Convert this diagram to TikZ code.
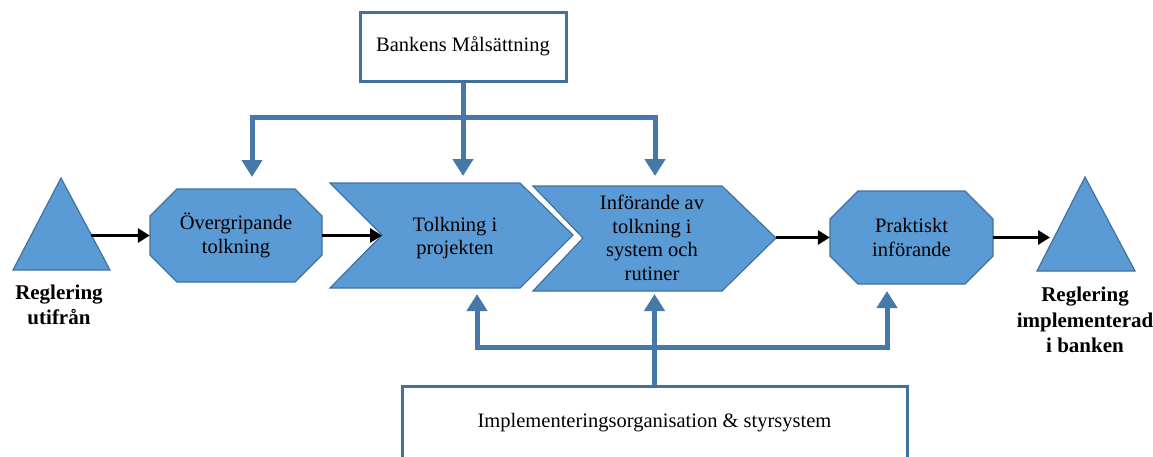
\documentclass[tikz,border=0pt]{standalone}
\usepackage{fontspec}
\setmainfont{Liberation Serif}
\usetikzlibrary{arrows.meta,calc}
\definecolor{fillblue}{HTML}{5B9BD5}
\definecolor{edgeblue}{HTML}{41719C}
\definecolor{linkblue}{HTML}{4678AA}
\begin{document}
\begin{tikzpicture}[x=1pt,y=-1pt,
  shapefill/.style={fill=fillblue,draw=edgeblue,line width=1.2pt,line join=miter},
  lbl/.style={inner sep=0pt,align=center,font=\fontsize{20.5}{23.5}\selectfont},
  boldlbl/.style={inner sep=0pt,align=center,font=\fontsize{21}{25.5}\selectfont\bfseries},
  framebox/.style={draw=edgeblue,line width=3pt,fill=white,inner sep=0pt,font=\fontsize{20.5}{24}\selectfont},
  flow/.style={line width=3.5pt,-{Triangle[length=12pt,width=14pt]}},
  feed/.style={draw=linkblue,line width=5pt,-{Triangle[length=17pt,width=20pt]}},
]
\useasboundingbox (0,0) rectangle (1153,456);
\clip (0,0) rectangle (1153,456);

% triangles
\draw[shapefill] (13,270) -- (110,270) -- (61,178) -- cycle;
\draw[shapefill] (1037,271) -- (1135,271) -- (1085,177) -- cycle;
\coordinate (t1r) at (91,235.5);
\coordinate (t2l) at (1050,237.5);
\node[boldlbl] (lin) at (59,305) {Reglering\\utifrån};
\node[boldlbl] (lout) at (1085,320) {Reglering\\implementerad\\i banken};

% octagons
\draw[shapefill] (177,189) -- (295,189) -- (322,216) -- (322,255) -- (295,282) -- (177,282) -- (150,255) -- (150,216) -- cycle;
\node[lbl,minimum width=172pt,minimum height=93pt] (o1) at (236,235.5) {Övergripande\\tolkning};
\draw[shapefill] (858,191) -- (965,191) -- (993,219) -- (993,256) -- (965,284) -- (858,284) -- (830,256) -- (830,219) -- cycle;
\node[lbl,minimum width=163pt,minimum height=93pt] (o2) at (911.5,237.5) {Praktiskt\\införande};

% chevrons
\draw[shapefill] (330,183) -- (520,183) -- (573,235) -- (520,288) -- (330,288) -- (382,235) -- cycle;
\node[lbl] (c1) at (455,238) {Tolkning i\\projekten};
\coordinate (c1in) at (382,235.5);
\draw[shapefill] (533,186) -- (722,186) -- (776,238) -- (722,291) -- (533,291) -- (583,238) -- cycle;
\node[lbl] (c2) at (652,238) {Införande av\\tolkning i\\system och\\rutiner};
\coordinate (c2out) at (776,237.5);

% flow arrows
\draw[flow] (t1r) -- (o1.west);
\draw[flow] (o1.east) -- (c1in);
\draw[flow] (c2out) -- (o2.west);
\draw[flow] (o2.east) -- (t2l);

% top box and feeds
\node[framebox,minimum width=206pt,minimum height=69pt] (bank) at (463,46.5) {Bankens Målsättning};
\coordinate (jtop) at (463,117);
\coordinate (a1) at (252,177);
\coordinate (a2) at (463,176);
\coordinate (a3) at (655,176);
\draw[feed] (bank.south) -- (a2);
\draw[feed] (jtop) -| (a1);
\draw[feed] (jtop) -| (a3);

% bottom box and feeds
\node[framebox,minimum width=505pt,minimum height=74pt] (imp) at (654.5,423) {Implementeringsorganisation \& styrsystem};
\coordinate (jbot) at (654.5,347);
\coordinate (b1) at (477,294);
\coordinate (b2) at (654.5,294);
\coordinate (b3) at (887,291);
\draw[feed] (imp.north) -- (b2);
\draw[feed] (jbot) -| (b1);
\draw[feed] (jbot) -| (b3);
\end{tikzpicture}
\end{document}
